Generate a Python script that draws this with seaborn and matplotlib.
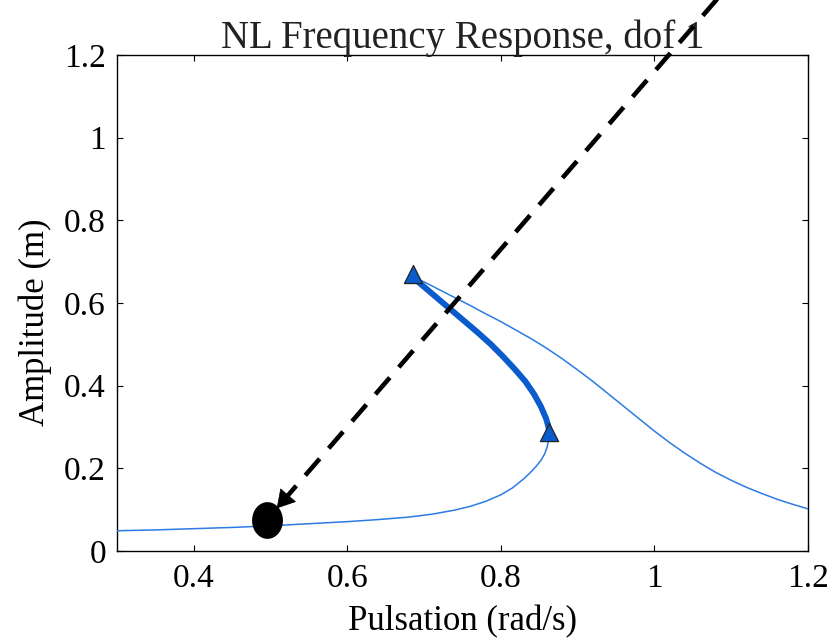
import numpy as np
import pandas as pd
import matplotlib
matplotlib.use("Agg")
import matplotlib.pyplot as plt
import seaborn as sns
from matplotlib.path import Path
from matplotlib.ticker import FuncFormatter

# ---- data ----
lower_x = [0.300, 0.350, 0.400, 0.450, 0.500, 0.550, 0.600, 0.640, 0.680, 0.710, 0.740, 0.760, 0.780,
           0.800, 0.815, 0.830, 0.8385, 0.846, 0.8525, 0.857, 0.860, 0.8618, 0.8628, 0.863]
lower_y = [0.049, 0.051, 0.054, 0.057, 0.061, 0.066, 0.071, 0.076, 0.082, 0.089, 0.099, 0.108, 0.120,
           0.136, 0.1525, 0.175, 0.190, 0.205, 0.220, 0.235, 0.250, 0.265, 0.280, 0.287]

unstable_x = [0.863, 0.862, 0.859, 0.852, 0.843, 0.832, 0.818, 0.803, 0.787, 0.769, 0.750, 0.731, 0.712, 0.693, 0.687]
unstable_y = [0.287, 0.300, 0.320, 0.350, 0.380, 0.410, 0.440, 0.470, 0.500, 0.530, 0.560, 0.590, 0.620, 0.650, 0.662]

upper_x = [0.687, 0.70, 0.72, 0.74, 0.76, 0.78, 0.80, 0.82, 0.84, 0.86, 0.88, 0.90, 0.92, 0.94,
           0.96, 0.98, 1.00, 1.02, 1.04, 1.06, 1.08, 1.10, 1.12, 1.14, 1.16, 1.18, 1.20]
upper_y = [0.662, 0.651, 0.632, 0.613, 0.594, 0.574, 0.555, 0.534, 0.513, 0.490, 0.465, 0.438, 0.410, 0.380,
           0.350, 0.320, 0.290, 0.262, 0.236, 0.212, 0.190, 0.171, 0.154, 0.139, 0.125, 0.113, 0.102]

fold_x = [0.686, 0.863]
fold_y = [0.671, 0.287]

point_x = [0.495]
point_y = [0.075]

arrow_start = (1.135, 1.450)
arrow_tip = (0.508, 0.103)

x_ticks = [0.4, 0.6, 0.8, 1.0, 1.2]
y_ticks = [0, 0.2, 0.4, 0.6, 0.8, 1.0, 1.2]

title_text = "NL Frequency Response, dof 1"
x_label = "Pulsation (rad/s)"
y_label = "Amplitude (m)"

# ---- style ----
sns.set_theme(style="white")
plt.rcParams['font.family'] = ['Liberation Serif', 'DejaVu Serif']

thin_col = "#2c7be5"
thick_col = "#0a5ccc"

fig = plt.figure(figsize=(8.31, 6.43), dpi=100)
ax = fig.add_axes([117/831, 1-551/643, (808-117)/831, (551-55)/643])

lower = pd.DataFrame({"x": lower_x, "y": lower_y})
unst = pd.DataFrame({"x": unstable_x, "y": unstable_y})
upper = pd.DataFrame({"x": upper_x, "y": upper_y})
folds = pd.DataFrame({"x": fold_x, "y": fold_y})
pt = pd.DataFrame({"x": point_x, "y": point_y})

sns.lineplot(data=lower, x="x", y="y", sort=False, estimator=None, color=thin_col, lw=1.1, ax=ax, zorder=3)
sns.lineplot(data=upper, x="x", y="y", sort=False, estimator=None, color=thin_col, lw=1.1, ax=ax, zorder=3)
sns.lineplot(data=unst, x="x", y="y", sort=False, estimator=None, color=thick_col, lw=4.3, ax=ax, zorder=3,
             solid_capstyle='round', solid_joinstyle='round')

sns.scatterplot(data=folds, x="x", y="y", marker="^", s=170, color=thick_col, edgecolor="#222222",
                linewidth=0.9, ax=ax, zorder=4)

# ellipse marker (slightly taller than wide)
t = np.linspace(0, 2*np.pi, 60)
ell = Path(np.column_stack([0.84*np.cos(t), np.sin(t)]), closed=True)
sns.scatterplot(data=pt, x="x", y="y", marker=ell, s=700, color="black", edgecolor="black",
                linewidth=0, ax=ax, zorder=6)

# dashed arrow
sx, sy = arrow_start
tx, ty = arrow_tip
frac = 0.022
bx, by = tx + frac*(sx-tx), ty + frac*(sy-ty)
ax.plot([sx, bx], [sy, by], color="black", lw=3.3, dashes=(4.8, 3.0), clip_on=False, zorder=7,
        solid_capstyle='butt', dash_capstyle='butt')
ax.annotate("", xy=(tx, ty), xytext=(bx, by), annotation_clip=False,
            arrowprops=dict(arrowstyle="-|>,head_length=0.6,head_width=0.35", color="black",
                            lw=0.5, shrinkA=0, shrinkB=0, mutation_scale=20), zorder=7)

ax.set_xlim(0.3, 1.2)
ax.set_ylim(0, 1.2)
ax.set_xticks(x_ticks)
ax.set_yticks(y_ticks)
fmt = FuncFormatter(lambda v, p: f"{v:g}")
ax.xaxis.set_major_formatter(fmt)
ax.yaxis.set_major_formatter(fmt)
ax.tick_params(direction="in", length=4, width=0.8, top=True, right=True, bottom=True, left=True,
               labelsize=24, colors="black")
ax.tick_params(axis="x", pad=9)
ax.tick_params(axis="y", pad=8)
for s in ax.spines.values():
    s.set_visible(True)
    s.set_color("black")
    s.set_linewidth(1.0)

ax.set_xlabel(x_label, fontsize=25, color="black", labelpad=8)
ax.set_ylabel(y_label, fontsize=25, color="black")
ax.yaxis.set_label_coords(-0.094, 0.462)
ax.set_title(title_text, fontsize=28, color="#222222", pad=5)
ax.set_facecolor("white")
fig.patch.set_facecolor("white")

fig.savefig("out.png", dpi=100)
